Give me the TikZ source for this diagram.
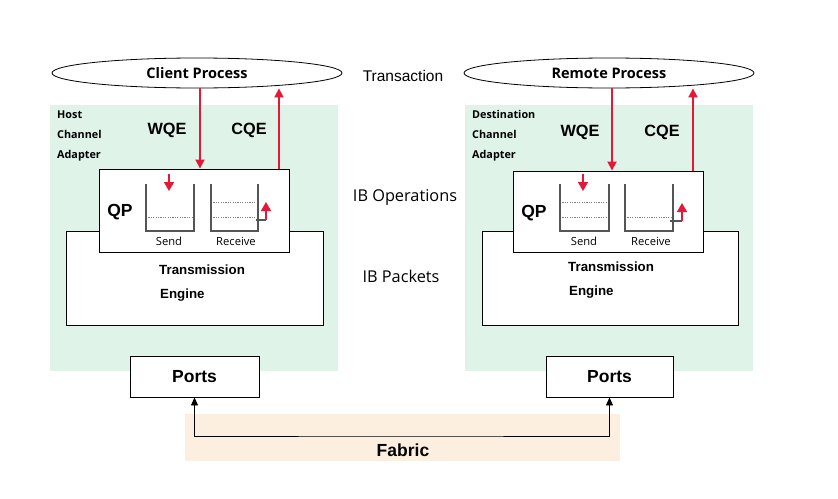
\documentclass[tikz,border=0pt]{standalone}
\usepackage{fontspec}
\setmainfont{Liberation Sans}
\newfontfamily\os{Open Sans}
\usetikzlibrary{shapes.geometric,arrows.meta}
\definecolor{hcagreen}{HTML}{DFF3E9}
\definecolor{fabbg}{HTML}{FDEFDF}
\definecolor{rarr}{HTML}{E31937}
\definecolor{bucket}{HTML}{555555}
\tikzset{
  proc/.style={draw=black, line width=0.8pt, ellipse, fill=white, minimum width=290pt, minimum height=30pt, inner sep=0pt,
    font=\os\bfseries\fontsize{14.5}{16}\selectfont},
  wbox/.style={draw=black, line width=0.9pt, fill=white, inner sep=0pt},
  redarr/.style={draw=rarr, line width=1.8pt, -{Triangle[length=9pt,width=9pt]}},
  smallred/.style={draw=rarr, line width=1.5pt, -{Triangle[length=9pt,width=10pt]}},
  blkarr/.style={draw=black, line width=0.9pt, {Triangle[length=8pt,width=7pt]}-{Triangle[length=8pt,width=7pt]}},
  bkt/.style={draw=bucket, line width=1.1pt},
  dline/.style={draw=gray, line width=0.5pt, dash pattern=on 1.2pt off 1.2pt},
  lbl/.style={font=\bfseries\fontsize{16.3}{18}\selectfont, inner sep=0pt},
  hca/.style={font=\os\bfseries\fontsize{10.8}{20}\selectfont, align=left, inner sep=0pt, anchor=west},
  small/.style={font=\os\fontsize{11.2}{12}\selectfont, inner sep=0pt},
  mid/.style={font=\os\fontsize{16.3}{18}\selectfont, inner sep=0pt},
  te/.style={font=\bfseries\fontsize{13.3}{15}\selectfont, inner sep=0pt, anchor=west},
  portsty/.style={wbox, minimum height=41pt, font=\bfseries\fontsize{17.5}{19}\selectfont},
}
\begin{document}
\begin{tikzpicture}[x=1pt,y=-1pt]
\useasboundingbox (0,0) rectangle (838,498);
% backgrounds
\fill[hcagreen] (50,105) rectangle (338,371);
\fill[hcagreen] (465,105) rectangle (753,371);
\fill[fabbg] (185,414) rectangle (620,461);

% processes
\node[proc] (cl) at (197,73) {Client Process};
\node[proc] (rm) at (609,73) {Remote Process};

% transmission engines
\node[wbox, minimum width=257pt, minimum height=94pt] (te1) at (194.5,278) {};
\node[wbox, minimum width=256pt, minimum height=94pt] (te2) at (610,278) {};
\node[te] (te1a) at (159,270) {Transmission};
\node[te] (te1b) at (160,295) {Engine};
\node[te] (te2a) at (568,267) {Transmission};
\node[te] (te2b) at (569,292) {Engine};

% QP boxes
\node[wbox, minimum width=190pt, minimum height=83pt] (qp1) at (194,210.5) {};
\node[wbox, minimum width=190pt, minimum height=81pt] (qp2) at (608,211.5) {};
\node[font=\bfseries\fontsize{17.5}{19}\selectfont, inner sep=0pt] (qpl1) at (120,212) {QP};
\node[font=\bfseries\fontsize{17.5}{19}\selectfont, inner sep=0pt] (qpl2) at (534,213) {QP};

% left buckets
\draw[dline] (146,217) -- (194,217);
\draw[bkt] (146,184) -- (146,231) -- (194,231) -- (194,184);
\draw[dline] (211,202) -- (258,202);
\draw[dline] (211,217) -- (258,217);
\draw[bkt] (211,184) -- (211,231) -- (258,231) -- (258,184);
\coordinate (r1a) at (256,220);
\coordinate (r1b) at (266,220);
\coordinate (r1c) at (266,202);
\draw[bkt] (r1a) -- (r1b);
\draw[smallred] (r1b) -- (r1c);
\coordinate (s1a) at (169,174);
\coordinate (s1b) at (169,191);
\draw[smallred] (s1a) -- (s1b);
\node[small] (snd1) at (169,241) {Send};
\node[small] (rcv1) at (236,241) {Receive};

% right buckets
\draw[dline] (560,202) -- (609,202);
\draw[dline] (560,217) -- (609,217);
\draw[bkt] (560,184) -- (560,231) -- (609,231) -- (609,184);
\draw[dline] (625,217) -- (673,217);
\draw[bkt] (625,184) -- (625,231) -- (673,231) -- (673,184);
\coordinate (r2a) at (670,221);
\coordinate (r2b) at (682,221);
\coordinate (r2c) at (682,203);
\draw[bkt] (r2a) -- (r2b);
\draw[smallred] (r2b) -- (r2c);
\coordinate (s2a) at (583,174);
\coordinate (s2b) at (583,191);
\draw[smallred] (s2a) -- (s2b);
\node[small] (snd2) at (584,241) {Send};
\node[small] (rcv2) at (651,241) {Receive};

% WQE / CQE arrows
\coordinate (wq1) at (200,0);
\coordinate (cq1) at (279,0);
\coordinate (wq2) at (612,0);
\coordinate (cq2) at (693,0);
\draw[redarr] (cl.south -| wq1) -- (qp1.north -| wq1);
\draw[redarr] (qp1.north -| cq1) -- (cl.south -| cq1);
\draw[redarr] (rm.south -| wq2) -- (qp2.north -| wq2);
\draw[redarr] (qp2.north -| cq2) -- (rm.south -| cq2);
\node[lbl] (wqe1) at (167,130) {WQE};
\node[lbl] (cqe1) at (249,130) {CQE};
\node[lbl] (wqe2) at (580,132) {WQE};
\node[lbl] (cqe2) at (662,132) {CQE};

% adapters
\node[hca] (hca1) at (57,136) {Host\\Channel\\Adapter};
\node[hca] (hca2) at (472,136) {Destination\\Channel\\Adapter};

% middle labels
\node[font=\fontsize{15.5}{17}\selectfont, inner sep=0pt] (trn) at (403,76) {Transaction};
\node[mid] (ibo) at (405,197) {IB Operations};
\node[mid] (ibp) at (401,276) {IB Packets};

% ports and fabric
\node[portsty, minimum width=129pt] (p1) at (194.5,376.5) {Ports};
\node[portsty, minimum width=127pt] (p2) at (609.5,376.5) {Ports};
\coordinate (fl) at (400,436);
\draw[blkarr] (p1.south) |- (fl) -| (p2.south);
\node[font=\bfseries\fontsize{17.5}{19}\selectfont, inner sep=0pt] (fab) at (403,450) {Fabric};
\end{tikzpicture}
\end{document}
